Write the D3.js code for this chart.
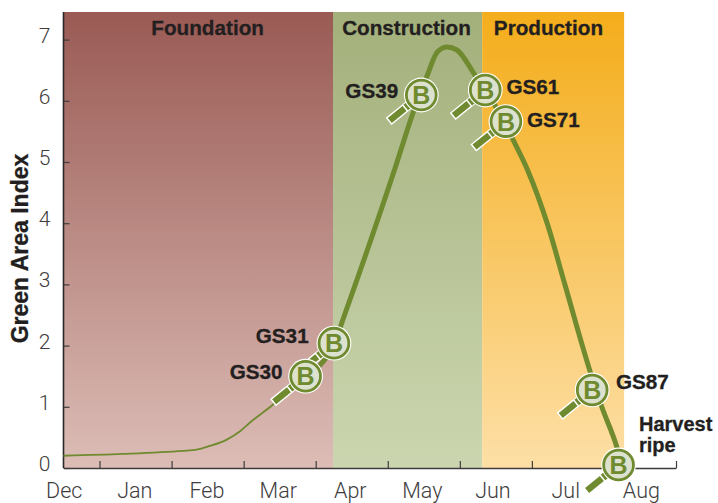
<!DOCTYPE html>
<html><head><meta charset="utf-8">
<script src="https://cdn.jsdelivr.net/npm/d3@7/dist/d3.min.js"></script>
<style>html,body{margin:0;padding:0;background:#fff}svg{display:block}</style></head>
<body><div id="chart"></div>
<script>
const months = ["Dec","Jan","Feb","Mar","Apr","May","Jun","Jul","Aug"];
const monthPos = [0.01,0.99,1.99,2.98,3.98,4.98,5.96,6.97,8.02];
const monthTicks = [0.5,1.5,2.5,3.5,4.5,5.5,6.5,7.5,8.5];
const yTicks = [0,1,2,3,4,5,6,7];
const phases = ["Foundation","Construction","Production"];
const phaseStart = [0,3.74,5.81];
const phaseEnd = [3.74,5.81,7.78];
const phaseLabelX = [2,4.76,6.73];
const phaseTop = ["#9a5a54","#a3b07b","#f4ad1b"];
const phaseBottom = ["#dcbdb6","#cbd6b0","#fddfa6"];
const curveX = [0,0.82,1.65,1.85,2.03,2.26,2.45,2.58,2.9,3.36,3.76,3.9,4.61,4.85,5.04,5.19,5.32,5.46,5.71,5.92,6.24,6.44,6.72,6.96,7.31,7.47,7.68,7.75];
const curveY = [0.2,0.23,0.28,0.30,0.36,0.46,0.6,0.735,1.03,1.52,2.04,2.5,4.93,5.8,6.39,6.8,6.88,6.83,6.42,6.06,5.36,4.87,3.97,2.99,1.57,1.0,0.34,0.05];
const thinCount = 10;
const stages = ["GS31","GS30","GS39","GS61","GS71","GS87",""];
const stageX = [3.753,3.36,4.965,5.853,6.14,7.337,7.703];
const stageY = [2.04,1.50,6.095,6.176,5.66,1.275,0.05];
const stageDx = [-25.3,-23,-23,21.2,21,23.7,0];
const stageDy = [0,2.3,3.3,4,5.6,-0.7,0];
const stageAnchor = ["end","end","end","start","start","start","start"];

const W=718,H=503;
const x=d3.scaleLinear().domain([0,8.5]).range([63.5,676]);
const y=d3.scaleLinear().domain([0,7]).range([468,39.6]);
const topY=12;
const svg=d3.select("#chart").append("svg").attr("width",W).attr("height",H);
const boldFont="'Liberation Sans', Arial, sans-serif";
const lightFont="Roboto, sans-serif";
const ink="#231f20";
const heavy=s=>s.attr("stroke",ink).attr("stroke-width",0.3);

const defs=svg.append("defs");
phases.forEach((p,i)=>{
  const g=defs.append("linearGradient").attr("id","ph"+i).attr("x1",0).attr("x2",0).attr("y1",0).attr("y2",1);
  g.append("stop").attr("offset",0).attr("stop-color",phaseTop[i]);
  g.append("stop").attr("offset",1).attr("stop-color",phaseBottom[i]);
});
svg.selectAll("rect.phase").data(phases).join("rect").attr("class","phase")
  .attr("x",(d,i)=>x(phaseStart[i])).attr("width",(d,i)=>x(phaseEnd[i])-x(phaseStart[i]))
  .attr("y",topY).attr("height",y(0)-topY).attr("fill",(d,i)=>`url(#ph${i})`);
svg.selectAll("text.phase").data(phases).join("text").attr("class","phase")
  .attr("x",(d,i)=>x(phaseLabelX[i])).attr("y",35)
  .attr("text-anchor","middle").attr("font-family",boldFont).attr("font-weight",700)
  .attr("font-size",20.7).attr("fill",ink).call(heavy).text(d=>d);

const axisColor="#3f3b3c";
const gx=svg.append("g").attr("transform",`translate(0,${y(0)})`)
  .call(d3.axisBottom(x).tickValues(monthTicks).tickSize(-7).tickFormat("").tickSizeOuter(0));
gx.select(".domain").attr("stroke",axisColor).attr("stroke-width",1.4);
gx.selectAll("line").attr("stroke",axisColor).attr("stroke-width",1.2);
const gy=svg.append("g").attr("transform",`translate(${x(0)},0)`)
  .call(d3.axisLeft(y).tickValues(yTicks).tickSize(-6).tickPadding(13).tickFormat(d3.format("d")).tickSizeOuter(0));
gy.select(".domain").attr("d",`M0,${topY}V${y(0)}`).attr("stroke","#2b2728").attr("stroke-width",1.6);
gy.selectAll("line").attr("stroke",axisColor).attr("stroke-width",1.2);
gy.selectAll("text").attr("font-family",lightFont).attr("font-weight",300).attr("font-size",21).attr("fill","#403c3d").attr("dy","0.12em");

svg.selectAll("text.month").data(months).join("text").attr("class","month")
  .attr("x",(d,i)=>x(monthPos[i])).attr("y",497.5).attr("text-anchor","middle")
  .attr("font-family",lightFont).attr("font-weight",300).attr("font-size",21.5).attr("fill","#403c3d").text(d=>d);

svg.append("text").attr("transform","translate(28,248.5) rotate(-90)").attr("text-anchor","middle")
  .attr("font-family",boldFont).attr("font-weight",700).attr("font-size",23).attr("fill",ink).call(heavy).text("Green Area Index");

const pts=curveX.map((v,i)=>[v,curveY[i]]);
const line=d3.line().x(d=>x(d[0])).y(d=>y(d[1])).curve(d3.curveMonotoneX);
const green="#6f8a2f";
svg.append("path").attr("d",line(pts.slice(0,thinCount))).attr("fill","none").attr("stroke",green).attr("stroke-width",1.8);
svg.append("path").attr("d",line(pts.slice(thinCount-1))).attr("fill","none").attr("stroke",green).attr("stroke-width",5);

const mags=svg.selectAll("g.mag").data(stages).join("g").attr("class","mag")
  .attr("transform",(d,i)=>`translate(${x(stageX[i])},${y(stageY[i])})`);
const h=mags.append("g").attr("transform","rotate(-39)");
h.append("rect").attr("x",-42).attr("y",-4.6).attr("width",28).attr("height",9.2).attr("fill","#fff");
h.append("rect").attr("x",-40.5).attr("y",-3.2).attr("width",19).attr("height",6.4).attr("fill",green);
h.append("rect").attr("x",-20).attr("y",-3.6).attr("width",4).attr("height",7.2).attr("fill",green);
mags.append("circle").attr("r",17.4).attr("fill","#fff");
mags.append("circle").attr("r",14.9).attr("fill","#dde2cf").attr("stroke",green).attr("stroke-width",2.8);
mags.append("text").attr("text-anchor","middle").attr("y",9).attr("font-family",boldFont)
  .attr("font-weight",700).attr("font-size",25).attr("fill",green).text("B");
mags.append("text").attr("x",(d,i)=>stageDx[i]).attr("y",(d,i)=>stageDy[i]).attr("text-anchor",(d,i)=>stageAnchor[i])
  .attr("font-family",boldFont).attr("font-weight",700).attr("font-size",20.7).attr("fill",ink).call(heavy).text(d=>d);

svg.append("text").attr("x",639).attr("y",431).attr("font-family",boldFont).attr("font-weight",700)
  .attr("font-size",20).attr("fill",ink).call(heavy).text("Harvest");
svg.append("text").attr("x",639).attr("y",452).attr("font-family",boldFont).attr("font-weight",700)
  .attr("font-size",20).attr("fill",ink).call(heavy).text("ripe");
</script></body></html>
